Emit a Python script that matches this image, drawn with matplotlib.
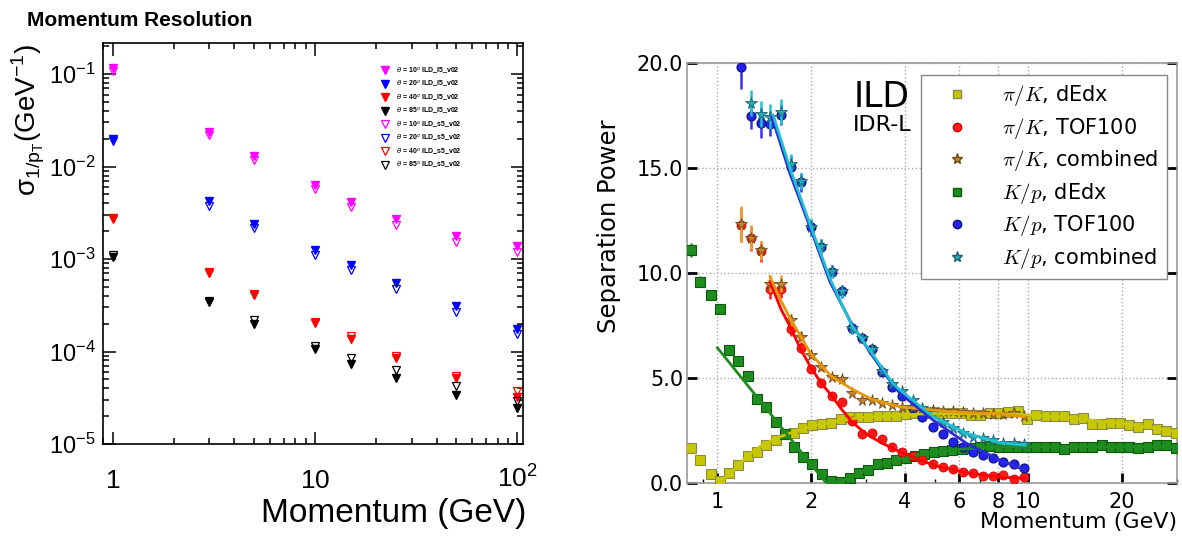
import matplotlib
matplotlib.use('Agg')
import matplotlib.pyplot as plt
from matplotlib.lines import Line2D
from matplotlib.ticker import FixedLocator, FixedFormatter, LogLocator, NullFormatter

plt.rcParams['font.family'] = ['Liberation Sans', 'DejaVu Sans']

# -------------------------------
# LEFT PANEL: momentum resolution
# -------------------------------
p_mom = [1, 3, 5, 10, 15, 25, 50, 100]

res_l5_10 = [0.116, 0.0234, 0.0131, 0.0063, 0.0041, 0.0027, 0.00176, 0.00137]
res_l5_20 = [0.0201, 0.0042, 0.00237, 0.00124, 0.00086, 0.00055, 0.00031, 0.000177]
res_l5_40 = [0.0028, 0.00071, 0.00041, 0.000204, 0.000137, 8.6e-5, 5.2e-5, 3.2e-5]
res_l5_85 = [0.00104, 0.00034, 0.000196, 0.000107, 7.4e-5, 5.2e-5, 3.35e-5, 2.43e-5]

res_s5_10 = [0.108, 0.0222, 0.0118, 0.00565, 0.00364, 0.00233, 0.00152, 0.0012]
res_s5_20 = [0.0188, 0.00377, 0.00218, 0.00111, 0.00076, 0.00048, 0.00027, 0.000156]
res_s5_40 = [0.0027, 0.00073, 0.00042, 0.00021, 0.000146, 9.0e-5, 5.5e-5, 3.7e-5]
res_s5_85 = [0.00111, 0.00035, 0.000218, 0.000116, 8.5e-5, 6.3e-5, 4.2e-5, 2.9e-5]

angles = ['10', '20', '40', '85']
ang_colors = ['#ff00ff', '#0000ff', '#ff0000', '#000000']

# -------------------------------
# RIGHT PANEL: separation power
# -------------------------------
# fine binning (dE/dx)
x_dedx = [0.82, 0.88, 0.95, 1.02, 1.09, 1.16, 1.25, 1.34, 1.43, 1.54, 1.65, 1.76, 1.89,
          2.02, 2.17, 2.32, 2.49, 2.67, 2.86, 3.06, 3.28, 3.51, 3.76, 4.03, 4.32, 4.63,
          4.96, 5.31, 5.69, 6.10, 6.53, 7.00, 7.50, 8.04, 8.61, 9.23, 9.89, 10.6, 11.4,
          12.2, 13.0, 14.0, 15.0, 16.0, 17.2, 18.4, 19.7, 21.1, 22.6, 24.2, 26.0, 27.8, 29.8]
pik_dedx = [1.67, 1.11, 0.43, 0.11, 0.50, 0.87, 1.31, 1.50, 1.82, 2.06, 2.33, 2.41, 2.62,
            2.76, 2.80, 2.86, 3.04, 3.14, 3.17, 3.17, 3.20, 3.22, 3.22, 3.28, 3.33, 3.36,
            3.41, 3.33, 3.36, 3.33, 3.25, 3.25, 3.33, 3.36, 3.40, 3.44, 3.05, 3.25, 3.20,
            3.20, 3.20, 3.05, 3.10, 2.81, 2.81, 2.86, 2.89, 2.78, 2.67, 2.83, 2.57, 2.51, 2.38]
kp_dedx = [11.11, 9.60, 8.97, 8.29, 6.35, 5.84, 5.12, 4.00, 3.65, 2.93, 2.35, 1.74, 1.24,
           0.90, 0.44, 0.11, 0.08, 0.24, 0.48, 0.63, 0.90, 0.98, 1.10, 1.20, 1.30, 1.38,
           1.50, 1.55, 1.60, 1.65, 1.70, 1.72, 1.76, 1.75, 1.74, 1.74, 1.74, 1.74, 1.74,
           1.71, 1.62, 1.74, 1.74, 1.74, 1.81, 1.74, 1.71, 1.71, 1.67, 1.71, 1.81, 1.82, 1.67]
kp_dedx_err = [0.33, 0.25, 0.25, 0.25, 0.2, 0.2, 0.15, 0.15, 0.1, 0.1, 0.1, 0.1, 0.1,
               0.1, 0.1, 0.1, 0.1, 0.1, 0.1, 0.1, 0.1, 0.1, 0.1, 0.1, 0.1, 0.1,
               0.1, 0.1, 0.1, 0.1, 0.1, 0.1, 0.1, 0.1, 0.1, 0.1, 0.1, 0.1, 0.1,
               0.1, 0.1, 0.1, 0.1, 0.1, 0.1, 0.1, 0.1, 0.1, 0.1, 0.1, 0.1, 0.1, 0.1]

# coarse binning (TOF / combined)
x_tof = [1.19, 1.28, 1.38, 1.48, 1.60, 1.72, 1.86, 2.00, 2.16, 2.33, 2.51, 2.70, 2.91,
         3.14, 3.38, 3.65, 3.93, 4.24, 4.56, 4.92, 5.30, 5.71, 6.16, 6.64, 7.16, 7.71,
         8.31, 8.96, 9.66]
pik_tof = [12.30, 11.67, 11.06, 9.24, 9.24, 7.33, 6.46, 5.44, 4.79, 4.16, 3.86, 2.97, 2.35,
           2.41, 2.11, 1.74, 1.50, 1.30, 1.11, 0.90, 0.79, 0.68, 0.55, 0.48, 0.36, 0.35,
           0.38, 0.19, 0.29]
pik_tof_err = [0.8, 0.6, 0.5, 0.45, 0.4, 0.3, 0.25, 0.2, 0.18, 0.15, 0.15, 0.12, 0.12,
               0.1, 0.1, 0.1, 0.1, 0.1, 0.1, 0.1, 0.1, 0.1, 0.1, 0.1, 0.1, 0.1,
               0.1, 0.1, 0.1]
pik_comb = [12.35, 11.70, 11.10, 9.50, 9.50, 7.78, 6.98, 6.11, 5.52, 5.05, 4.97, 4.31, 3.97,
            3.97, 3.81, 3.73, 3.65, 3.62, 3.55, 3.50, 3.45, 3.42, 3.38, 3.33, 3.33, 3.30,
            3.30, 3.35, 3.20]
pik_comb_err = [0.85, 0.6, 0.45, 0.4, 0.4, 0.3, 0.25, 0.2, 0.18, 0.15, 0.15, 0.12, 0.12,
                0.1, 0.1, 0.1, 0.1, 0.1, 0.1, 0.1, 0.1, 0.1, 0.1, 0.1, 0.1, 0.1,
                0.1, 0.1, 0.1]
kp_tof = [19.81, 17.50, 17.16, 17.12, 17.54, 15.08, 14.33, 12.19, 11.27, 10.08, 9.14, 7.38, 6.90,
          6.38, 5.30, 4.60, 4.16, 3.60, 3.15, 2.70, 2.35, 1.98, 1.73, 1.50, 1.33, 1.19,
          1.00, 0.90, 0.72]
kp_tof_err = [1.05, 0.65, 0.7, 0.6, 0.5, 0.5, 0.45, 0.4, 0.35, 0.3, 0.3, 0.25, 0.2,
              0.2, 0.15, 0.15, 0.12, 0.12, 0.1, 0.1, 0.1, 0.1, 0.1, 0.1, 0.1, 0.1,
              0.1, 0.1, 0.1]
kp_comb = [18.10, 17.59, 17.46, 17.70, 15.20, 14.40, 12.20, 11.30, 10.10, 9.15, 7.40, 6.92,
           6.40, 5.35, 4.75, 4.41, 3.97, 3.57, 3.33, 2.93, 2.62, 2.41, 2.22, 2.14, 2.06,
           1.90, 1.90, 1.86]
kp_comb_err = [0.63, 0.6, 0.6, 0.6, 0.5, 0.4, 0.4, 0.35, 0.3, 0.3, 0.25, 0.2,
               0.2, 0.15, 0.15, 0.12, 0.12, 0.1, 0.1, 0.1, 0.1, 0.1, 0.1, 0.1, 0.1,
               0.1, 0.1, 0.1]

# fitted curves, knots
fit_pik_dedx_x = [1.0, 1.1, 1.24, 1.4, 1.59, 1.8, 2.03, 2.3, 2.6, 3.0, 3.5, 4.5, 6.0, 8.0, 10.0, 13.0, 16.0, 20.0, 25.0, 29.8]
fit_pik_dedx_y = [0.0, 0.45, 1.27, 1.85, 2.22, 2.5, 2.74, 2.9, 3.05, 3.15, 3.2, 3.3, 3.32, 3.32, 3.25, 3.15, 3.0, 2.85, 2.65, 2.45]
fit_kp_dedx_x = [1.0, 2.24, 2.5, 2.8, 3.2, 3.7, 4.3, 5.0, 6.0, 7.5, 10.0, 20.0, 29.8]
fit_kp_dedx_y = [6.45, 0.0, 0.1, 0.42, 0.8, 1.08, 1.3, 1.48, 1.62, 1.72, 1.74, 1.74, 1.74]
fit_pik_tof_x = [1.476, 1.6, 1.72, 1.85, 2.0, 2.15, 2.32, 2.5, 2.7, 3.0, 3.4, 3.86, 4.94, 6.33, 8.1, 9.74]
fit_pik_tof_y = [9.6, 8.3, 7.4, 6.4, 5.5, 4.8, 4.2, 3.55, 2.95, 2.35, 1.9, 1.5, 0.87, 0.5, 0.29, 0.24]
fit_pik_comb_x = [1.476, 1.6, 1.72, 1.86, 2.0, 2.32, 2.7, 3.14, 3.86, 5.6, 8.1, 9.74]
fit_pik_comb_y = [9.84, 8.7, 7.8, 6.95, 6.15, 5.1, 4.5, 4.0, 3.65, 3.41, 3.3, 3.17]
fit_kp_tof_x = [1.495, 1.71, 2.0, 2.3, 2.7, 3.14, 3.66, 3.86, 4.94, 6.33, 8.1, 9.74]
fit_kp_tof_y = [17.46, 14.76, 12.06, 9.6, 7.6, 6.1, 4.7, 4.29, 3.01, 1.9, 1.11, 0.63]
fit_kp_comb_x = [1.51, 1.72, 2.0, 2.3, 2.7, 3.14, 3.66, 3.86, 4.94, 6.33, 8.1, 9.74]
fit_kp_comb_y = [17.54, 14.9, 12.2, 9.75, 7.54, 6.19, 4.76, 4.45, 3.17, 2.38, 1.93, 1.82]

legend_labels = [r'$\pi/K$, dEdx', r'$\pi/K$, TOF100', r'$\pi/K$, combined',
                 r'$K/p$, dEdx', r'$K/p$, TOF100', r'$K/p$, combined']

# -------------------------------
# FIGURE
# -------------------------------
fig = plt.figure(figsize=(11.82, 5.38), dpi=100)

# ---- left panel (ROOT style)
ax1 = fig.add_axes([0.0869, 0.1747, 0.3558, 0.7448])
handles = []
labels = []
for res, col, ang in zip([res_l5_10, res_l5_20, res_l5_40, res_l5_85], ang_colors, angles):
    h, = ax1.plot(p_mom, res, 'v', color=col, ms=6, mec=col, ls='none')
    handles.append(h)
    labels.append(r'$\theta$ = ' + ang + r'$^{o}$ ILD_l5_v02')
for res, col, ang in zip([res_s5_10, res_s5_20, res_s5_40, res_s5_85], ang_colors, angles):
    h, = ax1.plot(p_mom, res, 'v', mfc='none', mec=col, ms=6, mew=0.9, ls='none')
    handles.append(h)
    labels.append(r'$\theta$ = ' + ang + r'$^{o}$ ILD_s5_v02')

ax1.set_xscale('log')
ax1.set_yscale('log')
ax1.set_xlim(0.893, 107)
ax1.set_ylim(1e-5, 0.215)
ax1.xaxis.set_major_locator(FixedLocator([1, 10, 100]))
ax1.xaxis.set_major_formatter(FixedFormatter([r'$\mathdefault{1}$', r'$\mathdefault{10}$',
                                              r'$\mathdefault{10^{2}}$']))
ax1.xaxis.set_minor_locator(LogLocator(base=10, subs=range(2, 10)))
ax1.xaxis.set_minor_formatter(NullFormatter())
ax1.yaxis.set_major_locator(FixedLocator([1e-5, 1e-4, 1e-3, 1e-2, 1e-1]))
ax1.yaxis.set_minor_locator(LogLocator(base=10, subs=range(2, 10)))
ax1.yaxis.set_minor_formatter(NullFormatter())
for s in ax1.spines.values():
    s.set_linewidth(1.2)
ax1.tick_params(which='both', direction='in', top=True, right=True, width=1.1)
ax1.tick_params(which='major', length=9)
ax1.tick_params(which='minor', length=4.5)
ax1.tick_params(axis='y', which='major', labelsize=17, pad=5)
ax1.tick_params(axis='x', which='major', labelsize=19, pad=31.5)
for lbl in ax1.get_xticklabels():
    lbl.set_va('baseline')

ax1.legend(handles, labels, loc='upper left', bbox_to_anchor=(0.655, 0.953), frameon=False,
           prop={'size': 5, 'weight': 'bold'}, handlelength=1.2, handletextpad=0.9,
           labelspacing=0.4, borderaxespad=0)

fig.text(27 / 1182, 1 - 26 / 538, 'Momentum Resolution', fontsize=15, fontweight='bold',
         ha='left', va='baseline')
fig.text(28 / 1182, 1 - 44 / 538, r'σ$_{\mathdefault{1/p_{T}}}$(GeV$^{\mathdefault{-1}}$)',
         fontsize=20, rotation=90, ha='center', va='top')
fig.text(526 / 1182, 1 - 522 / 538, 'Momentum (GeV)', fontsize=24,
         ha='right', va='baseline')

# ---- right panel
ax2 = fig.add_axes([0.5815, 0.1017, 0.414, 0.7806])
ax2.set_xscale('log')

ax2.plot(x_dedx, pik_dedx, 's', color='#c8c800', mec='#8a8a50', ms=6.5, mew=0.8, zorder=3)
ax2.errorbar(x_dedx, kp_dedx, yerr=kp_dedx_err, fmt='s', color='#1e8c1e', mec='#0d5a0d',
             ms=6.5, mew=0.8, ecolor='#2a9a2a', elinewidth=1.8, capsize=0, zorder=3)
ax2.errorbar(x_tof, pik_tof, yerr=pik_tof_err, fmt='o', color='#ff1a1a', mec='#cc0000',
             ms=6.5, mew=0.6, ecolor='#ff2020', elinewidth=1.8, capsize=0, zorder=3)
ax2.errorbar(x_tof, pik_comb, yerr=pik_comb_err, fmt='*', color='#c8842a', mec='#6b4a1a',
             ms=8.5, mew=0.6, ecolor='#f0a030', elinewidth=1.8, capsize=0, zorder=4)
ax2.errorbar(x_tof, kp_tof, yerr=kp_tof_err, fmt='o', color='#2222ee', mec='#10107a',
             ms=6.5, mew=0.8, ecolor='#3333ee', elinewidth=1.8, capsize=0, zorder=3)
ax2.errorbar(x_tof[1:], kp_comb, yerr=kp_comb_err, fmt='*', color='#22aabb', mec='#1d5f6e',
             ms=8.5, mew=0.6, ecolor='#22c0d0', elinewidth=1.8, capsize=0, zorder=4)

ax2.plot(fit_pik_dedx_x, fit_pik_dedx_y, '-', color='#c8c800', lw=2, zorder=5)
ax2.plot(fit_kp_dedx_x, fit_kp_dedx_y, '-', color='#1e8c1e', lw=2, zorder=5)
ax2.plot(fit_pik_tof_x, fit_pik_tof_y, '-', color='#ff0000', lw=2, zorder=5)
ax2.plot(fit_pik_comb_x, fit_pik_comb_y, '-', color='#e8960c', lw=2, zorder=5)
ax2.plot(fit_kp_tof_x, fit_kp_tof_y, '-', color='#2b2bd9', lw=2, zorder=5)
ax2.plot(fit_kp_comb_x, fit_kp_comb_y, '-', color='#1fc0d0', lw=2, zorder=5)

ax2.set_xlim(0.8, 30)
ax2.set_ylim(0, 20)
ax2.xaxis.set_major_locator(FixedLocator([1, 2, 4, 6, 8, 10, 20]))
ax2.xaxis.set_major_formatter(FixedFormatter(['1', '2', '4', '6', '8', '10', '20']))
ax2.xaxis.set_minor_locator(FixedLocator([0.9, 3, 5, 7, 9, 30]))
ax2.xaxis.set_minor_formatter(NullFormatter())
ax2.yaxis.set_major_locator(FixedLocator([0, 5, 10, 15, 20]))
ax2.yaxis.set_major_formatter(FixedFormatter(['0.0', '5.0', '10.0', '15.0', '20.0']))
for s in ax2.spines.values():
    s.set_color('#999999')
    s.set_linewidth(1.2)
ax2.tick_params(which='major', direction='in', length=7, width=2, right=True,
                labelsize=15, labelfontfamily='DejaVu Sans')
ax2.tick_params(which='minor', direction='in', length=3, width=1)
ax2.tick_params(axis='y', pad=3)
ax2.tick_params(axis='x', pad=6)
ax2.grid(True, which='major', ls=':', color='#aaaaaa', lw=1)

ax2.set_xlabel('Momentum (GeV)', fontsize=16, family='DejaVu Sans', loc='right', labelpad=0)
ax2.set_ylabel('Separation Power', fontsize=17.5, family='DejaVu Sans')
ax2.yaxis.set_label_coords(-0.135, 0.613)

ax2.text(0.339, 0.96, 'ILD', transform=ax2.transAxes, fontsize=25, family='DejaVu Sans',
         ha='left', va='top')
ax2.text(0.339, 0.878, 'IDR-L', transform=ax2.transAxes, fontsize=16, family='DejaVu Sans',
         ha='left', va='top')

leg_handles = [
    Line2D([], [], ls='none', marker='s', color='#c8c800', mec='#8a8a50', ms=6),
    Line2D([], [], ls='none', marker='o', color='#ff1a1a', mec='#cc0000', ms=6),
    Line2D([], [], ls='none', marker='*', color='#c8842a', mec='#6b4a1a', ms=8),
    Line2D([], [], ls='none', marker='s', color='#1e8c1e', mec='#0d5a0d', ms=6),
    Line2D([], [], ls='none', marker='o', color='#2222ee', mec='#10107a', ms=6),
    Line2D([], [], ls='none', marker='*', color='#22aabb', mec='#1d5f6e', ms=8),
]
leg = ax2.legend(leg_handles, legend_labels, loc='upper right', bbox_to_anchor=(0.98, 0.972),
                 borderaxespad=0, fancybox=False, framealpha=1, edgecolor='#888888',
                 prop={'family': 'DejaVu Sans', 'size': 15}, handlelength=2.7,
                 handletextpad=0.8, labelspacing=0.36, numpoints=1)
leg.get_frame().set_linewidth(1.0)
leg.set_zorder(10)
for t in leg.get_texts():
    t.set_math_fontfamily('cm')

fig.savefig('out.png', dpi=100)
